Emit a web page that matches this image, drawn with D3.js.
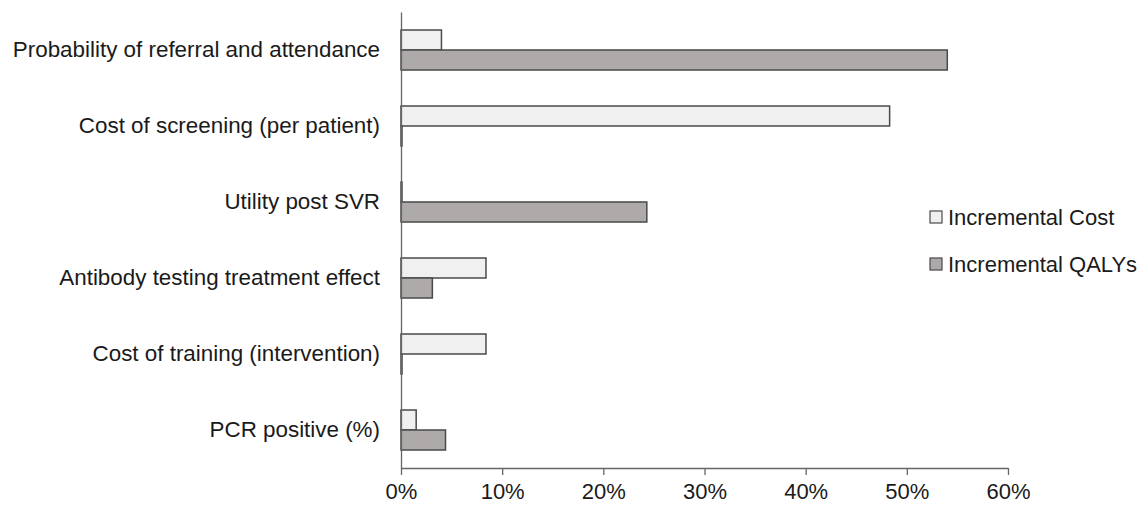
<!DOCTYPE html>
<html>
<head>
<meta charset="utf-8">
<script src="https://cdn.jsdelivr.net/npm/d3@7"></script>
<style>
  body { margin: 0; background: #fff; }
  svg text { font-family: "Liberation Sans", Arial, sans-serif; fill: #1a1a1a; }
</style>
</head>
<body>
<div id="chart"></div>
<script>
// data (percent)
const categories = [
  "Probability of referral and attendance",
  "Cost of screening (per patient)",
  "Utility post SVR",
  "Antibody testing treatment effect",
  "Cost of training (intervention)",
  "PCR positive (%)"
];
const incCost = [4.0, 48.3, 0.1, 8.4, 8.4, 1.5];
const incQaly = [54.0, 0.1, 24.3, 3.1, 0.1, 4.4];
const seriesNames = ["Incremental Cost", "Incremental QALYs"];
const xTicks = [0, 10, 20, 30, 40, 50, 60];

const W = 1143, H = 505;
const margin = {top: 12, right: 135, bottom: 37, left: 401};
const width = W - margin.left - margin.right;
const height = H - margin.top - margin.bottom;

const colors = ["#f0f0f0", "#aeaaa9"];
const stroke = "#4a4a4a";

const svg = d3.select("#chart")
    .append("svg")
    .attr("width", W)
    .attr("height", H)
    .append("g")
    .attr("transform", `translate(${margin.left},${margin.top})`);

const x = d3.scaleLinear()
    .domain([0, 60])
    .range([0, width]);

const y = d3.scaleBand()
    .domain(categories)
    .range([0, height]);

const inner = d3.scaleBand()
    .domain(seriesNames)
    .range([0, 40]);

const rows = categories.map((c, i) => ({cat: c, vals: [incCost[i], incQaly[i]]}));

// bars
const groups = svg.selectAll(".row")
    .data(rows)
    .enter()
    .append("g")
    .attr("transform", d => `translate(0,${y(d.cat) + y.bandwidth() / 2 - 20})`);

groups.selectAll("rect")
    .data(d => d.vals.map((v, j) => ({v: v, s: seriesNames[j], j: j})))
    .enter()
    .append("rect")
    .attr("x", 0)
    .attr("y", d => inner(d.s))
    .attr("width", d => x(d.v))
    .attr("height", inner.bandwidth())
    .attr("fill", d => colors[d.j])
    .attr("stroke", stroke)
    .attr("stroke-width", 1.5);

// axes
const xAxis = svg.append("g")
    .attr("transform", `translate(0,${height})`)
    .call(d3.axisBottom(x)
        .tickValues(xTicks)
        .tickSize(7)
        .tickSizeOuter(0)
        .tickFormat(d => d + "%"));
xAxis.select(".domain").attr("stroke", "#666").attr("stroke-width", 1.3);
xAxis.selectAll(".tick line").attr("stroke", "#666").attr("stroke-width", 1.3);
xAxis.selectAll(".tick text")
    .attr("y", 15)
    .style("font-size", "22px");

const yAxis = svg.append("g")
    .call(d3.axisLeft(y).tickSize(0).tickPadding(21));
yAxis.select(".domain").attr("stroke", "#666").attr("stroke-width", 1.3);
yAxis.selectAll(".tick text")
    .attr("dy", "0.33em")
    .style("font-size", "22.4px");

// legend
const legend = svg.append("g")
    .attr("transform", `translate(${930 - margin.left},${217 - margin.top})`);

const item = legend.selectAll(".item")
    .data(seriesNames)
    .enter()
    .append("g")
    .attr("transform", (d, i) => `translate(0,${i * 47})`);

item.append("rect")
    .attr("x", 0)
    .attr("y", -6)
    .attr("width", 12)
    .attr("height", 12)
    .attr("fill", (d, i) => colors[i])
    .attr("stroke", stroke)
    .attr("stroke-width", 1.2);

item.append("text")
    .attr("x", 18)
    .attr("dy", "0.35em")
    .style("font-size", "22px")
    .text(d => d);
</script>
</body>
</html>
